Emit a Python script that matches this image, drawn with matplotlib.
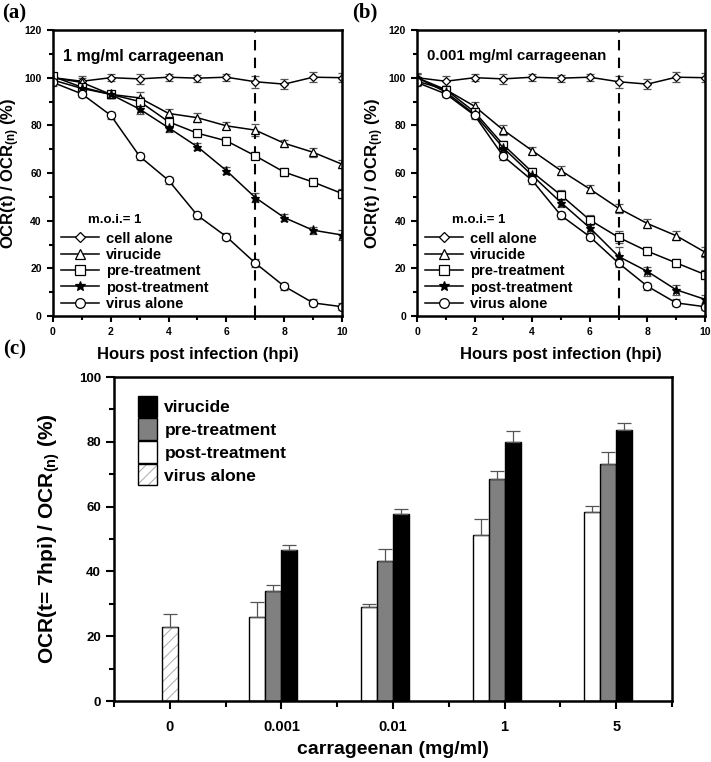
import matplotlib
matplotlib.use("Agg")
import matplotlib.pyplot as plt
from matplotlib.ticker import MultipleLocator, FixedLocator
from matplotlib.lines import Line2D
from matplotlib.legend_handler import HandlerTuple
import numpy as np

plt.rcParams['font.family'] = ['Liberation Sans', 'DejaVu Sans']
plt.rcParams['font.weight'] = 'bold'
plt.rcParams['axes.labelweight'] = 'bold'
plt.rcParams['mathtext.fontset'] = 'custom'
plt.rcParams['mathtext.bf'] = 'Liberation Sans:bold'
plt.rcParams['mathtext.rm'] = 'Liberation Sans:bold'
plt.rcParams['mathtext.default'] = 'bf'
plt.rcParams['hatch.linewidth'] = 0.7

# ---- time course data (hpi 0..10) ----
hours = [0, 1, 2, 3, 4, 5, 6, 7, 8, 9, 10]

cell_alone = [100, 98.5, 100, 99.5, 100.2, 99.8, 100.2, 98.3, 97.3, 100.2, 100]
cell_err = [2, 2, 1.5, 2, 1.5, 1.5, 1.5, 2.5, 2, 2, 2]
virus_alone = [98, 93.2, 84.2, 67, 56.9, 42.2, 33.3, 22.2, 12.5, 5.5, 3.9]
virus_err = [1.5, 1.5, 1.5, 1.5, 1.5, 1.5, 1.5, 1.8, 1.5, 1.5, 1.5]

# 1 mg/ml
a_viru = [100, 98, 93, 91.5, 85, 83.2, 79.8, 78, 72.5, 68.7, 63.7]
a_viru_err = [1.5, 2, 1.5, 2.5, 2, 2, 1.5, 2.5, 1.5, 1.8, 1.8]
a_pre = [100.5, 96, 93, 90, 81.5, 76.7, 73.5, 67.2, 60.4, 56.2, 51.4]
a_pre_err = [1.5, 1.5, 1.5, 2, 2, 1.5, 1.5, 1.5, 1.5, 1.5, 1.8]
a_post = [99, 95.5, 93, 86.8, 79, 71, 61, 49.7, 41.3, 36, 34]
a_post_err = [1.5, 1.5, 1.5, 2, 2, 1.5, 1.5, 2, 1.5, 1.5, 2]

# 0.001 mg/ml
b_viru = [100, 95, 88, 78, 69.4, 61, 53.3, 45.2, 38.8, 33.7, 26.8]
b_viru_err = [1.5, 1.5, 2, 2, 1.5, 2, 1.5, 2, 1.8, 1.8, 2]
b_pre = [98.5, 95, 85.6, 71.8, 60.4, 50.7, 40.3, 33, 27.2, 22.3, 17.4]
b_pre_err = [1.5, 1.5, 1.5, 1.8, 1.8, 2, 2, 2.5, 1.8, 1.8, 1.8]
b_post = [100, 94, 84.6, 70.5, 59, 47.6, 37, 25, 18.7, 11, 7]
b_post_err = [1.5, 1.5, 1.5, 1.5, 1.8, 2, 2, 4, 1.8, 2, 2]

# ---- bar data at t = 7 hpi ----
conc_labels = ['0', '0.001', '0.01', '1', '5']
virus_bar = 23.0
virus_bar_err = 4.0
post_bar = [25.9, 28.9, 51.4, 58.2]
post_bar_err = [4.8, 0.9, 4.8, 2.0]
pre_bar = [33.9, 43.1, 68.6, 73.3]
pre_bar_err = [1.8, 3.9, 2.4, 3.7]
viru_bar = [46.5, 57.7, 79.9, 83.5]
viru_bar_err = [1.6, 1.6, 3.4, 2.4]

fig = plt.figure(figsize=(7.11, 7.62), dpi=100)

ax_a = fig.add_axes([0.0745, 0.5853, 0.4065, 0.3753])
ax_b = fig.add_axes([0.5865, 0.5853, 0.4050, 0.3753])
ax_c = fig.add_axes([0.1603, 0.0800, 0.7848, 0.4252])

errkw = dict(ecolor='#555555', elinewidth=0.8, capsize=3, capthick=0.8)

styles = [
    ('cell alone', 'D', 4.5, 'white'),
    ('virucide', '^', 6, 'white'),
    ('pre-treatment', 's', 6, 'white'),
    ('post-treatment', '*', 6.5, 'black'),
    ('virus alone', 'o', 6, 'white'),
]


def time_panel(ax, viru, viru_e, pre, pre_e, post, post_e, title, tsize):
    series = [(cell_alone, cell_err), (viru, viru_e), (pre, pre_e),
              (post, post_e), (virus_alone, virus_err)]
    handles = []
    for (vals, errs), (lab, mk, ms, fc) in zip(series, styles):
        ax.errorbar(hours, vals, yerr=errs, color='black', lw=1.1,
                    marker=mk, ms=ms, mfc=fc, mec='black', mew=0.9, **errkw)
        handles.append(Line2D([], [], color='black', lw=1.1, marker=mk,
                              ms=ms + 1, mfc=fc, mec='black', mew=0.9,
                              label=lab))
    ax.axvline(7, color='black', lw=1.5, dashes=(5, 3.5))
    ax.set_xlim(0, 10)
    ax.set_ylim(0, 120)
    ax.xaxis.set_major_locator(MultipleLocator(2))
    ax.xaxis.set_minor_locator(MultipleLocator(1))
    ax.yaxis.set_major_locator(MultipleLocator(20))
    ax.yaxis.set_minor_locator(MultipleLocator(10))
    ax.tick_params(which='both', direction='out', width=1.5, labelsize=7.5,
                   top=False, right=False)
    ax.tick_params(which='major', length=4.5)
    ax.tick_params(which='minor', length=3)
    for s in ax.spines.values():
        s.set_linewidth(1.8)
    ax.set_xlabel('Hours post infection (hpi)', fontsize=12, labelpad=7)
    ax.set_ylabel(r'OCR(t) / OCR$_{(n)}$ (%)', fontsize=12, labelpad=2)
    ax.text(0.035, 0.935, title, transform=ax.transAxes, fontsize=tsize,
            va='top', ha='left')
    ax.text(0.12, 0.335, 'm.o.i.= 1', transform=ax.transAxes, fontsize=9.5,
            va='center', ha='left')
    ax.legend(handles=handles, loc='lower left', bbox_to_anchor=(0.0, -0.01),
              frameon=False, fontsize=10.5, handlelength=2.6,
              handletextpad=0.5, labelspacing=0.16, borderaxespad=0.15)


time_panel(ax_a, a_viru, a_viru_err, a_pre, a_pre_err, a_post, a_post_err,
           '1 mg/ml carrageenan', 11.5)
time_panel(ax_b, b_viru, b_viru_err, b_pre, b_pre_err, b_post, b_post_err,
           '0.001 mg/ml carrageenan', 10.8)

# ---- bar panel ----
w = 0.143
pos = np.arange(len(conc_labels))
grp = pos[1:]
barerr = dict(ecolor='#555555', elinewidth=0.9, capsize=5, capthick=0.9)
# hatch drawn in light grey, outline drawn separately in black
hatch_bar = ax_c.bar(pos[0], virus_bar, w, color='white',
                     edgecolor='#aaaaaa', lw=0, hatch='///')
edge_bar = ax_c.bar(pos[0], virus_bar, w, yerr=[[0], [virus_bar_err]],
                    fill=False, edgecolor='black', lw=1.0, error_kw=barerr)
b_post = ax_c.bar(grp - 1.5 * w, post_bar, w,
                  yerr=[np.zeros(4), post_bar_err], color='white',
                  edgecolor='black', lw=1.0, error_kw=barerr)
b_pre = ax_c.bar(grp - 0.5 * w, pre_bar, w, yerr=[np.zeros(4), pre_bar_err],
                 color='#808080', edgecolor='black', lw=1.0, error_kw=barerr)
b_viru = ax_c.bar(grp + 0.5 * w, viru_bar, w, yerr=[np.zeros(4), viru_bar_err],
                  color='black', edgecolor='black', lw=1.0, error_kw=barerr)

ax_c.set_xlim(-0.5, 4.5)
ax_c.set_ylim(0, 100)
ax_c.set_xticks(pos)
ax_c.set_xticklabels(conc_labels)
ax_c.xaxis.set_minor_locator(FixedLocator(np.arange(-0.5, 4.6, 1.0)))
ax_c.yaxis.set_major_locator(MultipleLocator(20))
ax_c.yaxis.set_minor_locator(MultipleLocator(10))
ax_c.tick_params(which='both', direction='out', width=1.5, top=False,
                 right=False)
ax_c.tick_params(axis='x', which='major', length=6, labelsize=10.5, pad=8)
ax_c.tick_params(axis='x', which='minor', length=4)
ax_c.tick_params(axis='y', which='major', length=6, labelsize=9.5)
ax_c.tick_params(axis='y', which='minor', length=3.5)
for s in ax_c.spines.values():
    s.set_linewidth(1.8)
ax_c.set_xlabel('carrageenan (mg/ml)', fontsize=14, labelpad=5)
ax_c.set_ylabel(r'OCR(t= 7hpi) / OCR$_{(n)}$ (%)', fontsize=15, labelpad=12)

ax_c.legend([b_viru.patches[0], b_pre.patches[0], b_post.patches[0],
             (hatch_bar.patches[0], edge_bar.patches[0])],
            ['virucide', 'pre-treatment', 'post-treatment', 'virus alone'],
            handler_map={tuple: HandlerTuple(ndivide=1, pad=0)},
            loc='upper left',
            bbox_to_anchor=(0.025, 0.975), frameon=False, fontsize=12.5,
            handlelength=1.1, handleheight=1.5, handletextpad=0.4,
            labelspacing=0.1, borderaxespad=0.2)

fig.text(0.003, 0.995, '(a)', family='Liberation Serif', fontsize=15,
         weight='bold', va='top', ha='left')
fig.text(0.495, 0.997, '(b)', family='Liberation Serif', fontsize=15,
         weight='bold', va='top', ha='left')
fig.text(0.005, 0.555, '(c)', family='Liberation Serif', fontsize=15,
         weight='bold', va='top', ha='left')

fig.savefig('out.png', dpi=100)
